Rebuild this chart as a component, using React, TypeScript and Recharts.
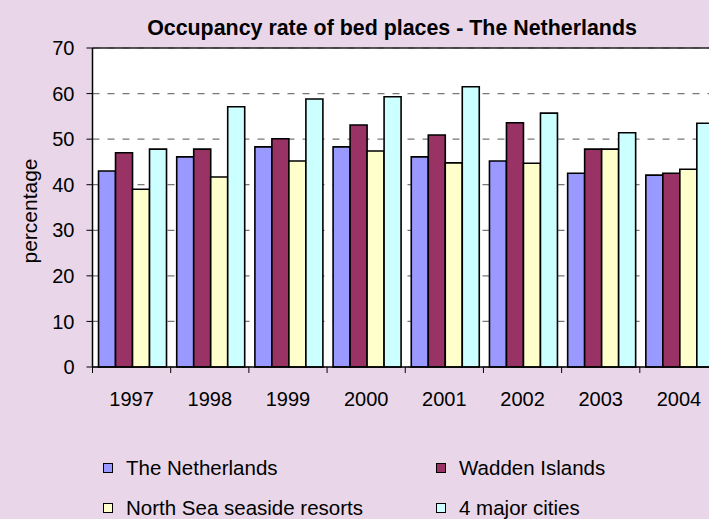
import React from 'react';
import { BarChart, Bar, XAxis, YAxis, CartesianGrid, ReferenceLine, Label } from 'recharts';

const years = ['1997', '1998', '1999', '2000', '2001', '2002', '2003', '2004'];
const netherlands = [43.0, 46.1, 48.3, 48.3, 46.1, 45.2, 42.5, 42.1];
const waddenIslands = [47.0, 47.8, 50.1, 53.1, 50.9, 53.6, 47.8, 42.5];
const northSea = [39.0, 41.7, 45.2, 47.4, 44.8, 44.7, 47.8, 43.4];
const majorCities = [47.8, 57.1, 58.8, 59.3, 61.5, 55.7, 51.4, 53.5];
const yTicks = [0, 10, 20, 30, 40, 50, 60, 70];

const series = [
  { key: 'nl', name: 'The Netherlands', color: '#9999FF', values: netherlands },
  { key: 'wi', name: 'Wadden Islands', color: '#993366', values: waddenIslands },
  { key: 'ns', name: 'North Sea seaside resorts', color: '#FFFFCC', values: northSea },
  { key: 'mc', name: '4 major cities', color: '#CCFFFF', values: majorCities },
];

const data = years.map((y, i) => {
  const row: Record<string, any> = { year: y };
  series.forEach((s) => (row[s.key] = s.values[i]));
  return row;
});

const FONT = '"Liberation Sans", Arial, sans-serif';
const BG = '#E9D7E9';

const XTick = (props: any) => {
  const { x, y, payload } = props;
  const half = payload && typeof payload.offset === 'number' && payload.offset > 0 ? payload.offset : 39;
  return (
    <g>
      <line x1={x - half} x2={x - half} y1={y - 25} y2={y - 19} stroke="#000" strokeWidth={1} />
      <text x={x} y={y} dy="0.71em" textAnchor="middle" fontSize={20} fontFamily={FONT} fill="#000">
        {payload.value}
      </text>
    </g>
  );
};

const YLabel = (props: any) => {
  const vb = props.viewBox || { x: 0, y: 48, width: 92, height: 319 };
  const cx = vb.x + 29;
  const cy = vb.y + vb.height / 2 + 3.5;
  return (
    <text
      x={cx}
      y={cy}
      transform={`rotate(-90 ${cx} ${cy})`}
      textAnchor="middle"
      dominantBaseline="central"
      fontSize={21}
      fontFamily={FONT}
      fill="#000"
    >
      percentage
    </text>
  );
};

export default function App() {
  return (
    <div
      style={{
        position: 'fixed',
        left: 0,
        top: 0,
        width: 709,
        height: 519,
        overflow: 'hidden',
        background: BG,
        fontFamily: FONT,
      }}
    >
      <div
        style={{
          position: 'absolute',
          left: 0,
          width: 784,
          top: 17,
          textAlign: 'center',
          fontWeight: 'bold',
          fontSize: 21.4,
          lineHeight: '22px',
          color: '#000',
          whiteSpace: 'nowrap',
        }}
      >
        Occupancy rate of bed places - The Netherlands
      </div>
      <div style={{ position: 'absolute', left: 0, top: 0 }}>
        <BarChart
          width={730}
          height={420}
          data={data}
          margin={{ top: 48, right: 12, left: 0, bottom: 0 }}
          barCategoryGap="7.7%"
          barGap={0}
        >
          <CartesianGrid
            horizontal
            vertical={false}
            stroke="#777777"
            strokeWidth={1.2}
            strokeDasharray="7 8"
            fill="#FFFFFF"
            fillOpacity={1}
          />
          <ReferenceLine y={70} stroke="#222" strokeWidth={1.5} />
          <XAxis
            dataKey="year"
            height={53}
            axisLine={{ stroke: '#000', strokeWidth: 1.5 }}
            tickLine={false}
            tickSize={0}
            tickMargin={25}
            tick={<XTick />}
            interval={0}
          />
          <YAxis
            width={92.5}
            domain={[0, 70]}
            ticks={yTicks}
            interval={0}
            axisLine={{ stroke: '#000', strokeWidth: 1.5 }}
            tickLine={{ stroke: '#000' }}
            tickSize={6}
            tickMargin={12}
            tick={{ fontSize: 20, fontFamily: FONT, fill: '#000' }}
          >
            <Label content={<YLabel />} />
          </YAxis>
          {series.map((s) => (
            <Bar
              key={s.key}
              dataKey={s.key}
              name={s.name}
              fill={s.color}
              stroke="#000"
              strokeWidth={1.6}
              isAnimationActive={false}
            />
          ))}
        </BarChart>
      </div>
      {series.map((s, i) => {
        const col = i % 2;
        const row = Math.floor(i / 2);
        return (
          <div
            key={s.key}
            style={{
              position: 'absolute',
              left: 103,
              marginLeft: col * 333,
              top: 457 + row * 40,
              display: 'flex',
              alignItems: 'center',
              height: 22,
              whiteSpace: 'nowrap',
            }}
          >
            <span
              style={{
                display: 'inline-block',
                width: 8,
                height: 8,
                background: s.color,
                border: '1.5px solid #000',
                marginRight: 13,
              }}
            />
            <span style={{ fontSize: 20.5, lineHeight: '22px', color: '#000' }}>{s.name}</span>
          </div>
        );
      })}
    </div>
  );
}
